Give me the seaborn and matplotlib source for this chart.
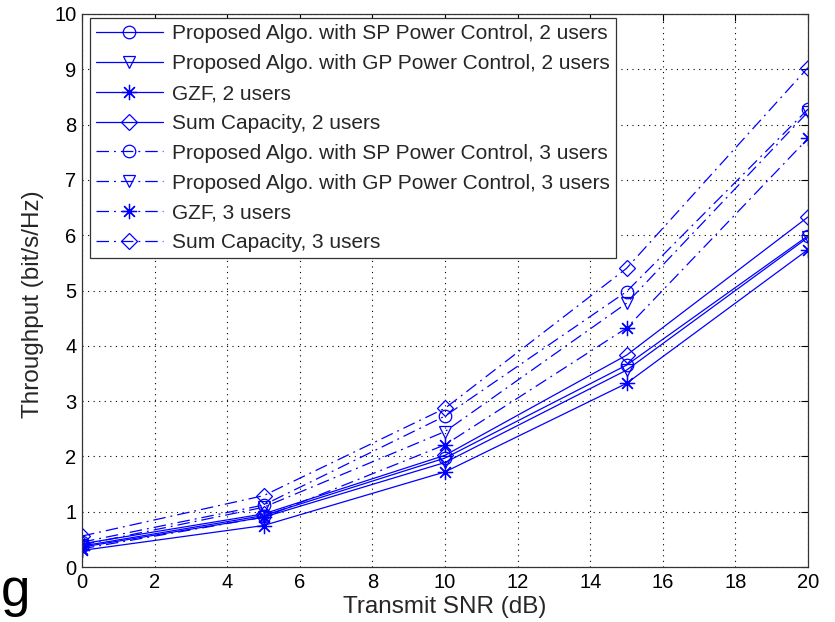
import matplotlib
matplotlib.use("Agg")
import matplotlib.pyplot as plt
import seaborn as sns
import numpy as np

# Transmit SNR grid (dB)
snr_db = [0, 5, 10, 15, 20]

# Throughput (bit/s/Hz), 2 users
sp_2users = [0.38, 0.93, 1.97, 3.65, 5.99]
gp_2users = [0.36, 0.90, 1.89, 3.56, 5.96]
gzf_2users = [0.30, 0.75, 1.72, 3.32, 5.74]
sumcap_2users = [0.42, 0.96, 2.02, 3.83, 6.33]

# Throughput (bit/s/Hz), 3 users
sp_3users = [0.45, 1.12, 2.73, 4.98, 8.28]
gp_3users = [0.40, 1.08, 2.45, 4.77, 8.23]
gzf_3users = [0.33, 0.90, 2.21, 4.32, 7.75]
sumcap_3users = [0.56, 1.29, 2.87, 5.40, 9.03]

labels = [
    "Proposed Algo. with SP Power Control, 2 users",
    "Proposed Algo. with GP Power Control, 2 users",
    "GZF, 2 users",
    "Sum Capacity, 2 users",
    "Proposed Algo. with SP Power Control, 3 users",
    "Proposed Algo. with GP Power Control, 3 users",
    "GZF, 3 users",
    "Sum Capacity, 3 users",
]
series = [sp_2users, gp_2users, gzf_2users, sumcap_2users,
          sp_3users, gp_3users, gzf_3users, sumcap_3users]
# MATLAB-style marker set: circle, down-triangle, asterisk, diamond
asterisk = (8, 2, 0)
markers = ["o", "v", asterisk, "D", "o", "v", asterisk, "D"]
msizes = [9, 9, 11, 8, 9, 9, 11, 8]

sns.set_style("white")
plt.rcParams["font.family"] = ["Liberation Sans", "DejaVu Sans"]

fig = plt.figure(figsize=(8.35, 6.22), dpi=100)
ax = fig.add_axes([0.0982, 0.0884, 0.8695, 0.8891])

blue = "#0000ff"
for i, (vals, lab, mk, ms) in enumerate(zip(series, labels, markers, msizes)):
    kws = dict(color=blue, marker=mk, markersize=ms, mfc="none", mec=blue,
               mew=0.9, linewidth=0.9, label=lab, ax=ax)
    line = sns.lineplot(x=snr_db, y=vals, **kws).get_lines()[-1]
    if i >= 4:
        line.set_dashes([10, 4, 1.5, 4])

ax.set_xlim(0, 20)
ax.set_ylim(0, 10)
ax.set_xticks(np.arange(0, 21, 2))
ax.set_yticks(np.arange(0, 11, 1))
ax.tick_params(direction="in", length=5, width=0.8, top=True, right=True,
               labelsize=14.5, colors="black", pad=4)
for sp in ax.spines.values():
    sp.set_visible(True)
    sp.set_color("#333333")
    sp.set_linewidth(0.9)
ax.grid(True, color="black", linestyle=(0, (1, 4)), linewidth=0.8)

ax.set_xlabel("Transmit SNR (dB)", fontsize=17.5, labelpad=3)
ax.set_ylabel("Throughput (bit/s/Hz)", fontsize=17.5, labelpad=4)
ax.yaxis.set_label_coords(-0.052, 0.475)

leg = ax.legend(loc="upper left", bbox_to_anchor=(0.0105, 0.9925),
                fontsize=15, handlelength=3.2, handletextpad=0.45,
                labelspacing=0.52, borderpad=0.3, borderaxespad=0,
                fancybox=False, framealpha=1, edgecolor="#333333",
                numpoints=1)
leg.get_frame().set_linewidth(0.9)

fig.text(0.001, 0.026, "g", fontsize=38, color="black", ha="left",
         va="baseline")

fig.savefig("out.png", dpi=100)
